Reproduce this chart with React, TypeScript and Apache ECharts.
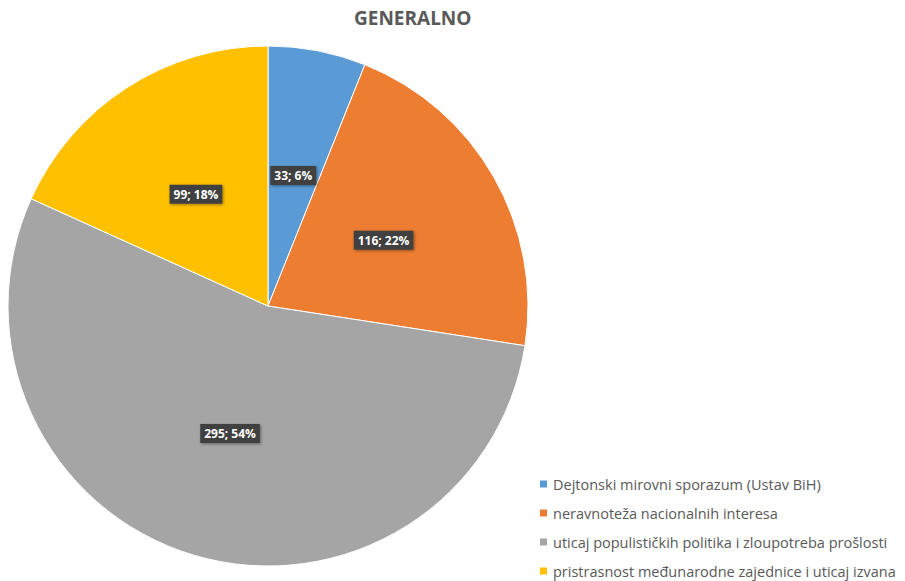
import React, { useEffect, useRef } from "react";
import * as echarts from "echarts";

const categories = [
  "Dejtonski mirovni sporazum (Ustav BiH)",
  "neravnoteža nacionalnih interesa",
  "uticaj populističkih politika i zloupotreba prošlosti",
  "pristrasnost međunarodne zajednice i uticaj izvana",
];
const values = [33, 116, 295, 99];
const percents = [6, 22, 54, 18];
const colors = ["#5B9BD5", "#ED7D31", "#A5A5A5", "#FFC000"];

export default function App() {
  const ref = useRef<HTMLDivElement>(null);
  useEffect(() => {
    document.body.style.margin = "0";
    const chart = echarts.init(ref.current!, undefined, { renderer: "svg" });
    chart.setOption({
      animation: false,
      backgroundColor: "#ffffff",
      title: {
        text: "GENERALNO",
        left: 354,
        top: 8,
        padding: 0,
        textStyle: {
          fontFamily: "Open Sans",
          fontSize: 19,
          fontWeight: "bold",
          color: "#595959",
        },
      },
      legend: {
        orient: "vertical",
        left: 538,
        top: 476,
        padding: 0,
        icon: "rect",
        itemWidth: 9,
        itemHeight: 9,
        itemGap: 13,
        textStyle: {
          fontFamily: "Open Sans",
          fontSize: 14.5,
          color: "#595959",
          lineHeight: 16,
        },
        data: categories,
      },
      series: [
        {
          type: "pie",
          center: [268, 306],
          radius: [0, 260],
          startAngle: 90,
          clockwise: true,
          itemStyle: { borderColor: "#ffffff", borderWidth: 1 },
          label: {
            show: true,
            position: "inside",
            formatter: (p: any) => `${values[p.dataIndex]}; ${percents[p.dataIndex]}%`,
            color: "#ffffff",
            fontFamily: "Open Sans",
            fontWeight: "bold",
            fontSize: 12,
            backgroundColor: "#404040",
            padding: [4, 4, 3, 4],
            shadowColor: "rgba(0,0,0,0.4)",
            shadowBlur: 3,
            shadowOffsetX: 1,
            shadowOffsetY: 1,
          },
          labelLine: { show: false },
          emphasis: { disabled: true },
          data: categories.map((c, i) => ({
            name: c,
            value: values[i],
            itemStyle: { color: colors[i] },
          })),
        },
      ],
    });
    return () => chart.dispose();
  }, []);
  return (
    <div
      ref={ref}
      style={{ position: "absolute", left: 0, top: 0, width: 905, height: 581 }}
    />
  );
}
